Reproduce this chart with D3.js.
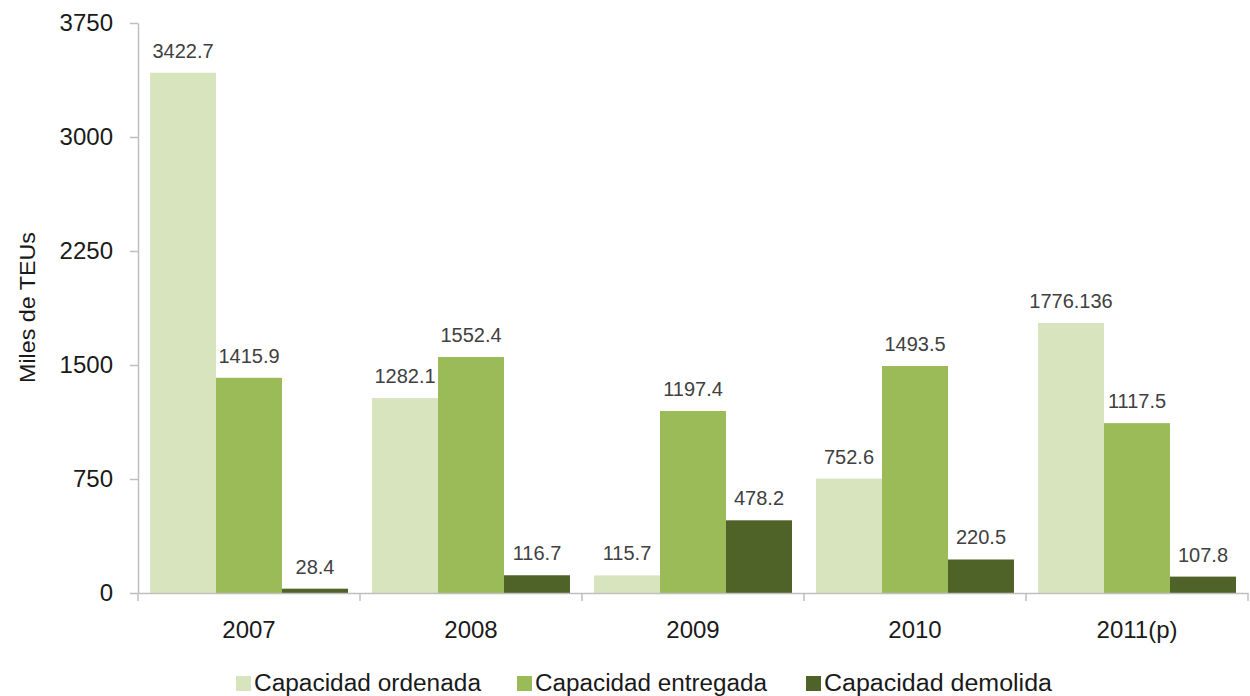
<!DOCTYPE html>
<html><head><meta charset="utf-8">
<script src="https://cdn.jsdelivr.net/npm/d3@7"></script>
<style>body{margin:0;background:#fff}svg{display:block}</style>
</head><body>
<svg id="c" width="1250" height="696"></svg>
<script>
const categories = ["2007","2008","2009","2010","2011(p)"];
const seriesNames = ["Capacidad ordenada","Capacidad entregada","Capacidad demolida"];
const ordenada  = [3422.7, 1282.1, 115.7, 752.6, 1776.136];
const entregada = [1415.9, 1552.4, 1197.4, 1493.5, 1117.5];
const demolida  = [28.4, 116.7, 478.2, 220.5, 107.8];
const labelsOrdenada  = ["3422.7","1282.1","115.7","752.6","1776.136"];
const labelsEntregada = ["1415.9","1552.4","1197.4","1493.5","1117.5"];
const labelsDemolida  = ["28.4","116.7","478.2","220.5","107.8"];
const yTicks = [0, 750, 1500, 2250, 3000, 3750];
const colors = ["#d7e4bd", "#9bbb59", "#4f6228"];

(function () {
const series = [ordenada, entregada, demolida];
const labels = [labelsOrdenada, labelsEntregada, labelsDemolida];

const svg = d3.select("#c");
const mLeft = 138, mRight = 1248, mTop = 23, mBottom = 593;
const font = "Liberation Sans, Arial, sans-serif";

const y = d3.scaleLinear().domain([0, 3750]).range([mBottom, mTop]);
const x0 = d3.scaleBand().domain(categories).range([mLeft, mRight]).paddingInner(0).paddingOuter(0);
const bw = x0.bandwidth();
const x1 = d3.scaleBand().domain(d3.range(3)).range([12, bw - 12]).padding(0);

series.forEach((vals, si) => {
  const g = svg.append("g");
  g.selectAll("rect").data(vals).join("rect")
    .attr("x", (d, i) => x0(categories[i]) + x1(si))
    .attr("width", x1.bandwidth())
    .attr("y", d => y(d))
    .attr("height", d => y(0) - y(d))
    .attr("fill", colors[si]);
  g.selectAll("text").data(vals).join("text")
    .attr("x", (d, i) => x0(categories[i]) + x1(si) + x1.bandwidth() / 2)
    .attr("y", d => y(d) - 15)
    .attr("text-anchor", "middle")
    .attr("font-family", font)
    .attr("font-size", 20)
    .attr("fill", "#404040")
    .text((d, i) => labels[si][i]);
});

const yAxis = d3.axisLeft(y).tickValues(yTicks).tickFormat(d3.format("d"))
  .tickSize(8).tickPadding(17).tickSizeOuter(0);
const gy = svg.append("g").attr("transform", `translate(${mLeft},0)`).call(yAxis);
gy.select(".domain").attr("stroke", "#bfbfbf").attr("stroke-width", 1.5);
gy.selectAll(".tick line").attr("stroke", "#bfbfbf").attr("stroke-width", 1.5);
gy.selectAll(".tick text").attr("font-family", font)
  .attr("font-size", 24).attr("fill", "#1a1a1a");

const xAxis = d3.axisBottom(x0).tickSize(0).tickPadding(0).tickSizeOuter(0);
const gx = svg.append("g").attr("transform", `translate(0,${mBottom})`).call(xAxis);
gx.select(".domain").attr("stroke", "#bfbfbf").attr("stroke-width", 1.5);
gx.selectAll(".tick text").attr("font-family", font)
  .attr("font-size", 24).attr("fill", "#1a1a1a").attr("dy", null).attr("y", 45);
const bounds = categories.map(c => x0(c)).concat([mRight]);
gx.selectAll("line.bound").data(bounds).join("line").attr("class", "bound")
  .attr("x1", d => d).attr("x2", d => d).attr("y1", 0).attr("y2", 8)
  .attr("stroke", "#bfbfbf").attr("stroke-width", 1.5);

svg.append("text")
  .attr("transform", `translate(35,307.5) rotate(-90)`)
  .attr("text-anchor", "middle")
  .attr("font-family", font)
  .attr("font-size", 22)
  .attr("textLength", 151)
  .attr("lengthAdjust", "spacingAndGlyphs")
  .attr("fill", "#1a1a1a")
  .text("Miles de TEUs");

const legX = [236, 517, 806];
const legW = [227, 232, 228];
const lg = svg.append("g");
seriesNames.forEach((n, i) => {
  lg.append("rect").attr("x", legX[i]).attr("y", 676).attr("width", 15).attr("height", 15).attr("fill", colors[i]);
  lg.append("text").attr("x", legX[i] + 18).attr("y", 691)
    .attr("font-family", font)
    .attr("font-size", 23)
    .attr("textLength", legW[i])
    .attr("lengthAdjust", "spacingAndGlyphs")
    .attr("fill", "#1a1a1a").text(n);
});
})();
</script>
</body></html>
